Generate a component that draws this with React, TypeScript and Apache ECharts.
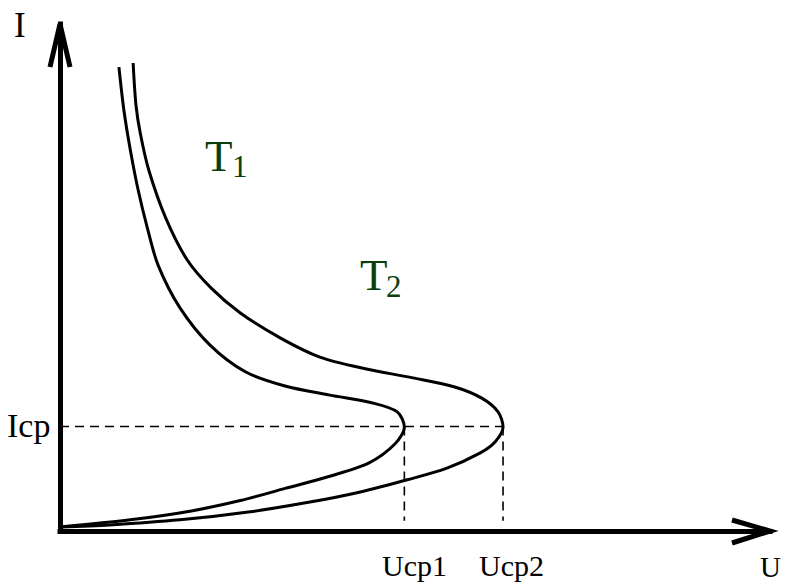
import React, { useEffect, useRef } from "react";
import * as echarts from "echarts";

// Axis ranges (arbitrary units: U horizontal, I vertical)
const U_MIN = 0;
const U_MAX = 10;
const I_MIN = 0;
const I_MAX = 10;

// Critical values
const ICP = 2.06;
const UCP1 = 4.85;
const UCP2 = 6.24;
const DASH_BOTTOM = 0.2;

// Curve T1 (inner), ordered from top end to origin
const curveT1: [number, number][] = [
  [0.83, 9.15],
  [0.9, 8.3],
  [0.99, 7.52],
  [1.1, 6.73],
  [1.23, 5.98],
  [1.38, 5.25],
  [1.69, 4.4],
  [2.11, 3.67],
  [2.61, 3.14],
  [3.17, 2.86],
  [3.8, 2.68],
  [4.39, 2.53],
  [4.75, 2.35],
  [4.85, 2.05],
  [4.72, 1.72],
  [4.36, 1.35],
  [3.8, 1.08],
  [3.17, 0.84],
  [2.54, 0.6],
  [1.83, 0.39],
  [0.99, 0.22],
  [0, 0.08],
];

// Curve T2 (outer)
const curveT2: [number, number][] = [
  [1.03, 9.23],
  [1.07, 8.4],
  [1.13, 7.85],
  [1.25, 7.12],
  [1.49, 6.17],
  [1.79, 5.35],
  [2.13, 4.79],
  [2.54, 4.3],
  [3.1, 3.81],
  [3.66, 3.43],
  [4.3, 3.2],
  [4.97, 3.02],
  [5.56, 2.84],
  [5.94, 2.62],
  [6.17, 2.35],
  [6.24, 2.05],
  [6.13, 1.76],
  [5.92, 1.54],
  [5.45, 1.24],
  [4.89, 1.01],
  [4.23, 0.77],
  [3.52, 0.57],
  [2.68, 0.38],
  [1.69, 0.22],
  [0.7, 0.12],
  [0, 0.08],
];

// Dashed guide lines
const guideIcp: [number, number][] = [
  [0, ICP],
  [UCP2, ICP],
];
const guideUcp1: [number, number][] = [
  [UCP1, ICP],
  [UCP1, DASH_BOTTOM],
];
const guideUcp2: [number, number][] = [
  [UCP2, ICP],
  [UCP2, DASH_BOTTOM],
];

const FONT = '"Liberation Serif", "Times New Roman", serif';
const GREEN = "#0d3f0d";

export default function App() {
  const ref = useRef<HTMLDivElement>(null);

  useEffect(() => {
    if (!ref.current) return;
    const chart = echarts.init(ref.current, null, { renderer: "svg" });

    const dashed = (data: [number, number][]) => ({
      type: "line",
      data,
      symbol: "none",
      silent: true,
      clip: false,
      lineStyle: { color: "#000", width: 1.6, type: [9, 6] },
    });
    const solid = (data: [number, number][], width: number, smooth: number | boolean) => ({
      type: "line",
      data,
      symbol: "none",
      silent: true,
      clip: false,
      smooth,
      lineStyle: { color: "#000", width, join: "round", cap: "butt" },
    });

    const text = (
      t: string,
      x: number,
      y: number,
      size: number,
      color = "#000"
    ) => ({
      type: "text",
      x,
      y,
      silent: true,
      style: {
        text: t,
        fill: color,
        font: `${size}px ${FONT}`,
        align: "left",
        verticalAlign: "middle",
      },
    });

    const arrow = (pts: number[][]) => ({
      type: "polyline",
      silent: true,
      shape: { points: pts },
      style: { stroke: "#000", lineWidth: 5, fill: "none", lineJoin: "miter", lineCap: "butt" },
    });

    chart.setOption({
      animation: false,
      backgroundColor: "#fff",
      grid: { left: 60, right: 16, top: 24, bottom: 51, containLabel: false },
      xAxis: {
        type: "value",
        min: U_MIN,
        max: U_MAX,
        axisLine: { show: true, onZero: false, lineStyle: { color: "#000", width: 5, cap: "square" } },
        axisTick: { show: false },
        axisLabel: { show: false },
        splitLine: { show: false },
      },
      yAxis: {
        type: "value",
        min: I_MIN,
        max: I_MAX,
        axisLine: { show: true, onZero: false, lineStyle: { color: "#000", width: 5, cap: "square" } },
        axisTick: { show: false },
        axisLabel: { show: false },
        splitLine: { show: false },
      },
      series: [
        dashed(guideIcp),
        dashed(guideUcp1),
        dashed(guideUcp2),
        solid(curveT1, 3, 0.3),
        solid(curveT2, 3, 0.3),
      ],
      graphic: [
        arrow([
          [50, 67],
          [60, 24],
          [70, 67],
        ]),
        arrow([
          [732, 520],
          [770, 531],
          [732, 543],
        ]),
        text("I", 14, 25, 35),
        text("Icp", 7, 425, 34),
        text("Ucp1", 382, 565, 30),
        text("Ucp2", 479, 565, 30),
        text("U", 760, 567, 29),
        text("T", 205, 156, 45, GREEN),
        text("1", 232, 166, 31, GREEN),
        text("T", 360, 275, 45, GREEN),
        text("2", 386, 286, 31, GREEN),
      ],
    });

    return () => chart.dispose();
  }, []);

  return (
    <div
      ref={ref}
      style={{ position: "absolute", left: 0, top: 0, width: 786, height: 582, background: "#fff" }}
    />
  );
}
